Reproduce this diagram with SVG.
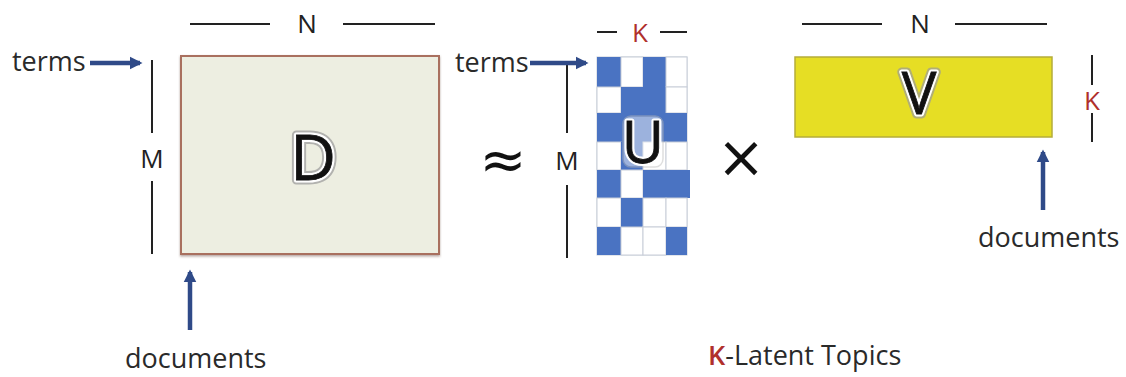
<svg xmlns="http://www.w3.org/2000/svg" width="1126" height="377" viewBox="0 0 1126 377">
  <style>
    .lbl { font-family: "Open Sans", "Liberation Sans", sans-serif; font-size: 27px; fill: #2a2a2a; }
    .dim { font-family: "Open Sans", "Liberation Sans", sans-serif; font-size: 26px; fill: #222; text-anchor: middle; }
    .red { fill: #b0302c; }
    .rule { stroke: #222; stroke-width: 2; fill: none; }
    .arrow { stroke: #2f4a88; stroke-width: 4.5; fill: none; marker-end: url(#head); }
    .big { font-family: "Open Sans", "Liberation Sans", sans-serif; text-anchor: middle; font-weight: 400; }
    .halo1 { stroke: #9a9a9a; stroke-width: 9; stroke-linejoin: round; fill: #9a9a9a; opacity: 0.7; }
    .halo2 { stroke: #ffffff; stroke-width: 5; stroke-linejoin: round; fill: #ffffff; }
    .ink { fill: #111; stroke: #111; stroke-width: 0.8; }
    .cb { fill: #4a73c2; }
    .cw { fill: #ffffff; stroke: #c8cdd8; stroke-width: 1; }
    .op { font-family: "DejaVu Sans", sans-serif; fill: #111; text-anchor: middle; }
  </style>
  <defs>
    <marker id="head" viewBox="0 0 10 10" refX="8" refY="5" markerWidth="2.8" markerHeight="3" orient="auto" markerUnits="strokeWidth">
      <path d="M0,0 L10,5 L0,10 Z" fill="#2f4a88"/>
    </marker>
    <filter id="soft" x="-5%" y="-5%" width="110%" height="115%">
      <feDropShadow dx="0" dy="1.5" stdDeviation="1" flood-color="#6b4a40" flood-opacity="0.5"/>
    </filter>
  </defs>

  <!-- term-document matrix D -->
  <g id="matrix-d">
    <rect x="181" y="56" width="258" height="198" fill="#edeee1" stroke="#a9705f" stroke-width="2" filter="url(#soft)"/>
    <text class="big halo1" x="313" y="180" font-size="63">D</text>
    <text class="big halo2" x="313" y="180" font-size="63">D</text>
    <text class="big ink" x="313" y="180" font-size="63">D</text>
    <line class="rule" x1="190" y1="24" x2="270" y2="24"/>
    <line class="rule" x1="343" y1="24" x2="435" y2="24"/>
    <text class="dim" x="307" y="33">N</text>
    <line class="rule" x1="152" y1="60" x2="152" y2="133"/>
    <line class="rule" x1="152" y1="181" x2="152" y2="254"/>
    <text class="dim" x="152" y="168">M</text>
    <text class="lbl" x="12" y="71">terms</text>
    <text class="lbl" x="125" y="368">documents</text>
  </g>

  <!-- approximately equals -->
  <g id="approx">
    <text class="op" x="503" y="179" font-size="56">≈</text>
  </g>

  <!-- term-topic matrix U -->
  <g id="matrix-u">
    <rect x="597" y="57" width="90" height="198" fill="#ffffff" stroke="#c8cdd8" stroke-width="1"/>
    <!-- row 0 -->
    <rect class="cb" x="597" y="57" width="24" height="30"/>
    <rect class="cw" x="621" y="57" width="22" height="30"/>
    <rect class="cb" x="643" y="57" width="23" height="30"/>
    <rect class="cw" x="666" y="57" width="21" height="30"/>
    <!-- row 1 -->
    <rect class="cw" x="597" y="87" width="24" height="26"/>
    <rect class="cb" x="621" y="87" width="22" height="26"/>
    <rect class="cb" x="643" y="87" width="23" height="26"/>
    <rect class="cw" x="666" y="87" width="21" height="26"/>
    <!-- row 2 -->
    <rect class="cb" x="597" y="113" width="24" height="29"/>
    <rect class="cb" x="621" y="113" width="22" height="29"/>
    <rect class="cb" x="643" y="113" width="23" height="29"/>
    <rect class="cb" x="666" y="113" width="21" height="29"/>
    <!-- row 3 -->
    <rect class="cw" x="597" y="142" width="24" height="28"/>
    <rect class="cb" x="621" y="142" width="22" height="28"/>
    <rect class="cw" x="643" y="142" width="23" height="28"/>
    <rect class="cw" x="666" y="142" width="21" height="28"/>
    <!-- row 4 -->
    <rect class="cb" x="597" y="170" width="24" height="28"/>
    <rect class="cw" x="621" y="170" width="22" height="28"/>
    <rect class="cb" x="643" y="170" width="47" height="28"/>
    <!-- row 5 -->
    <rect class="cw" x="597" y="198" width="24" height="29"/>
    <rect class="cb" x="621" y="198" width="22" height="29"/>
    <rect class="cw" x="643" y="198" width="23" height="29"/>
    <rect class="cw" x="666" y="198" width="21" height="29"/>
    <!-- row 6 -->
    <rect class="cb" x="597" y="227" width="24" height="28"/>
    <rect class="cw" x="621" y="227" width="22" height="28"/>
    <rect class="cw" x="643" y="227" width="23" height="28"/>
    <rect class="cb" x="666" y="227" width="21" height="28"/>
    <!-- letter tile -->
    <rect x="623" y="116" width="40" height="51" rx="8" fill="#ffffff" opacity="0.45" stroke="#b8b8b8" stroke-width="1.5"/>
    <text class="big halo2" x="643" y="163" font-size="58">U</text>
    <text class="big ink" x="643" y="163" font-size="58">U</text>
    <line class="rule" x1="597" y1="32" x2="617" y2="32"/>
    <line class="rule" x1="660" y1="32" x2="687" y2="32"/>
    <text class="dim red" x="640" y="42">K</text>
    <line class="rule" x1="567" y1="63" x2="567" y2="133"/>
    <line class="rule" x1="567" y1="185" x2="567" y2="258"/>
    <text class="dim" x="567" y="170">M</text>
    <text class="lbl" x="455" y="72">terms</text>
  </g>

  <!-- multiplication -->
  <g id="times">
    <text class="op" x="741" y="177" font-size="58">×</text>
  </g>

  <!-- topic-document matrix V -->
  <g id="matrix-v">
    <rect x="795" y="57" width="257" height="80" fill="#e6de24" stroke="#b5ad3a" stroke-width="1.5"/>
    <text class="big halo1" x="919" y="114" font-size="58">V</text>
    <text class="big halo2" x="919" y="114" font-size="58">V</text>
    <text class="big ink" x="919" y="114" font-size="58">V</text>
    <line class="rule" x1="802" y1="24" x2="882" y2="24"/>
    <line class="rule" x1="955" y1="24" x2="1047" y2="24"/>
    <text class="dim" x="920" y="33">N</text>
    <line class="rule" x1="1092" y1="55" x2="1092" y2="85"/>
    <line class="rule" x1="1092" y1="113" x2="1092" y2="142"/>
    <text class="dim red" x="1092" y="110">K</text>
    <text class="lbl" x="978" y="247">documents</text>
  </g>

  <!-- caption -->
  <g id="caption">
    <text class="lbl" x="708" y="365"><tspan class="red" font-weight="600">K</tspan>-Latent Topics</text>
  </g>

  <!-- pointer arrows -->
  <g id="connectors">
    <line class="arrow" x1="90" y1="63" x2="140" y2="63"/>
    <line class="arrow" x1="530" y1="63" x2="586" y2="63"/>
    <line class="arrow" x1="190" y1="330" x2="190" y2="272"/>
    <line class="arrow" x1="1043" y1="210" x2="1043" y2="152"/>
  </g>
</svg>
